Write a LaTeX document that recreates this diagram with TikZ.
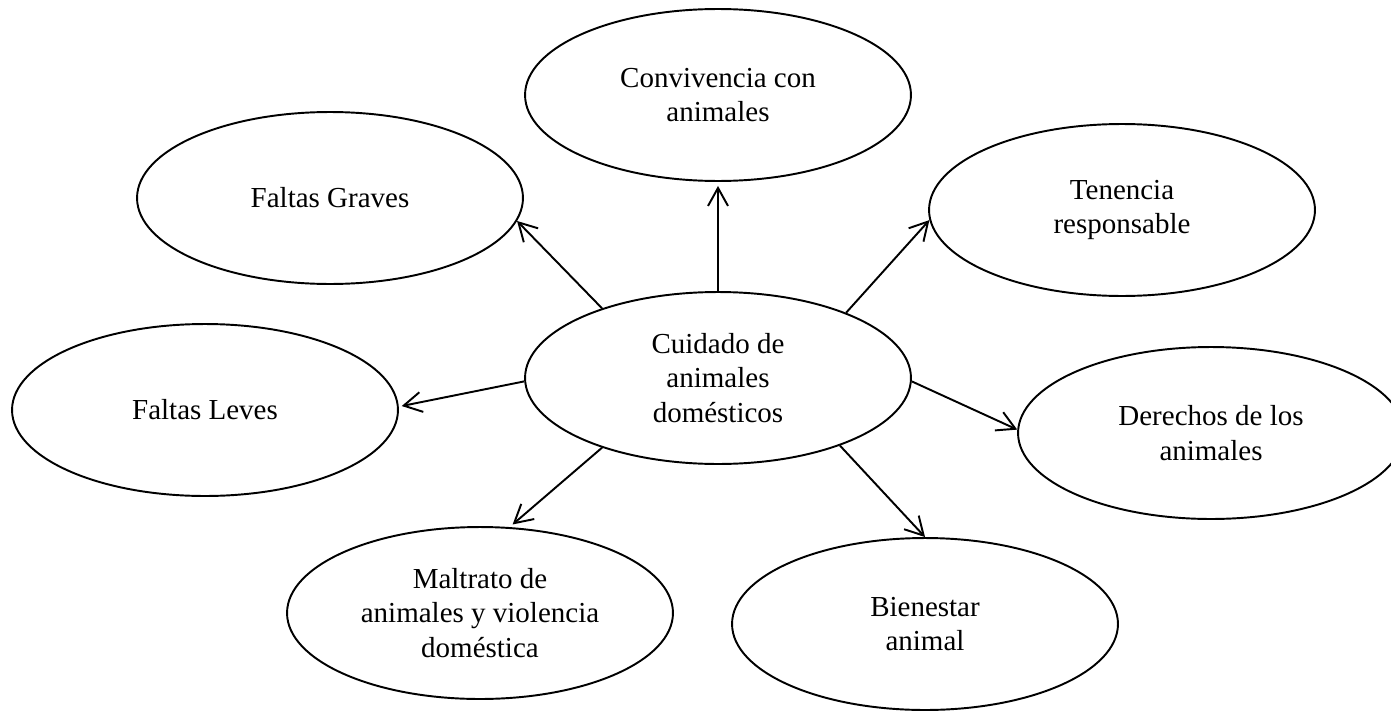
\documentclass[tikz,border=0pt]{standalone}
\usepackage{fontspec}
\setmainfont{Liberation Serif}
\usetikzlibrary{shapes.geometric, arrows.meta}

\begin{document}
\begin{tikzpicture}[x=0.02cm, y=-0.02cm, line width=1.1pt,
    >={Straight Barb[length=3.6mm, width=4mm]},
    tema/.style={ellipse, draw, minimum width=7.72cm, minimum height=3.44cm,
      inner sep=0pt, align=center, font=\fontsize{16.5}{19.5}\selectfont}]
  \useasboundingbox (0,0) rectangle (1391,713) ;
  \node[tema] (cuidado) at (718,378) {Cuidado de\\animales\\domésticos} ;
  \node[tema] (convivencia) at (718,95) {Convivencia con\\animales} ;
  \node[tema] (graves) at (330,198) {Faltas Graves} ;
  \node[tema] (tenencia) at (1122,210) {Tenencia\\responsable} ;
  \node[tema] (leves) at (205,410) {Faltas Leves} ;
  \node[tema] (derechos) at (1211,433) {Derechos de los\\animales} ;
  \node[tema] (maltrato) at (480,613) {Maltrato de\\animales y violencia\\doméstica} ;
  \node[tema] (bienestar) at (925,624) {Bienestar\\animal} ;
  \draw[->, shorten >=0.8mm] (cuidado.90) -- (convivencia.south) ;
  \draw[->] (cuidado.149) -- (graves.-7) ;
  \draw[->] (cuidado.27.5) -- (tenencia.183.5) ;
  \draw[->, shorten >=0.6mm] (cuidado.181) -- (leves.1) ;
  \draw[->] (cuidado.-1) -- (derechos.179) ;
  \draw[->, shorten >=0.8mm] (cuidado.211) -- (maltrato.71) ;
  \draw[->] (cuidado.-29) -- (bienestar.90) ;
\end{tikzpicture}
\end{document}
